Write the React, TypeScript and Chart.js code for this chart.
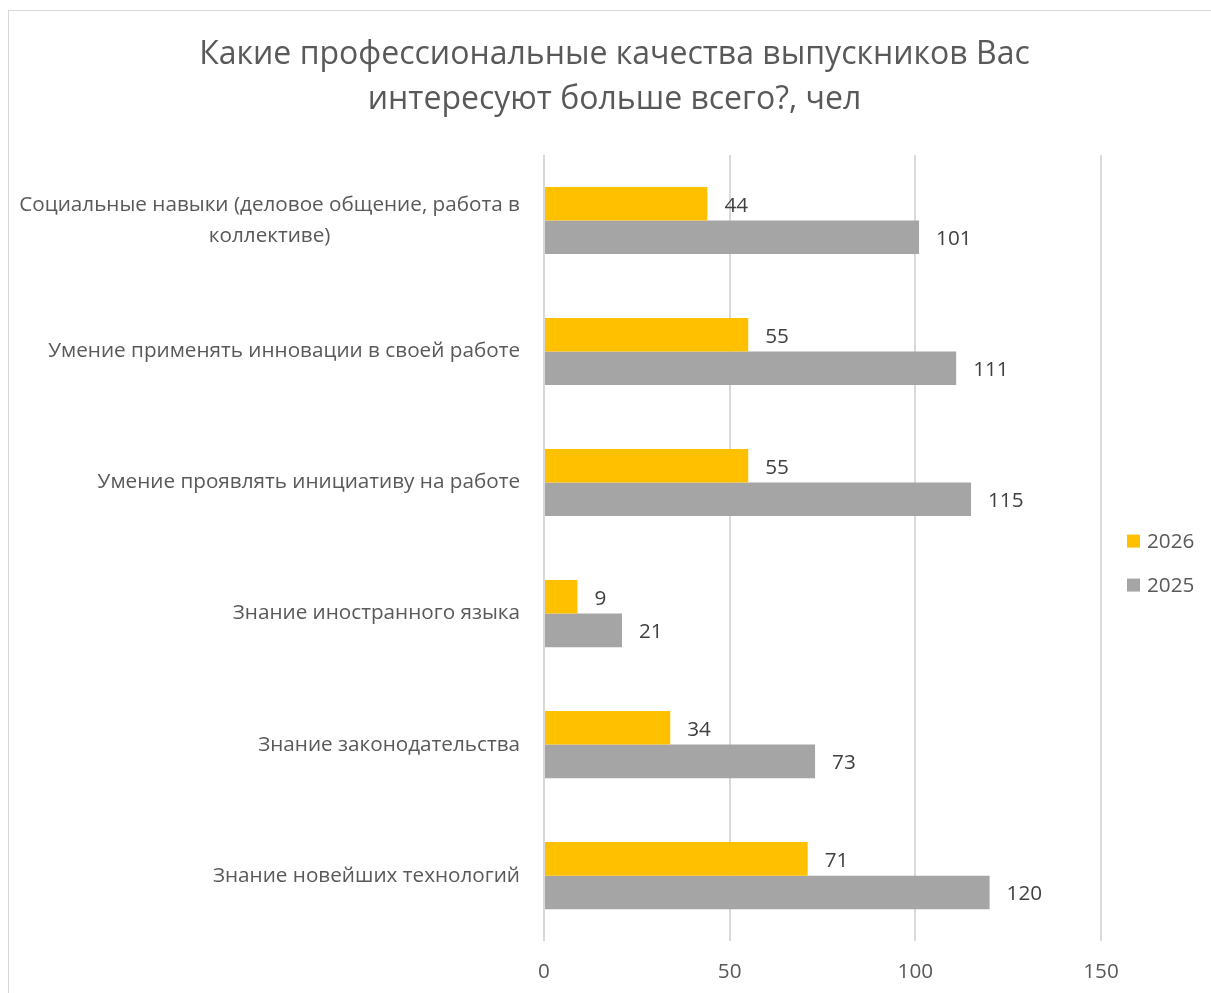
import React, { useEffect, useRef } from "react";
import { Chart, registerables } from "chart.js";

Chart.register(...registerables);

const titleLines = [
  "Какие профессиональные качества выпускников Вас",
  "интересуют больше всего?, чел",
];

const categories: (string | string[])[] = [
  ["Социальные навыки (деловое общение, работа в", "коллективе)"],
  "Умение применять инновации в своей работе",
  "Умение проявлять инициативу на работе",
  "Знание иностранного языка",
  "Знание законодательства",
  "Знание новейших технологий",
];

const seriesNames = ["2026", "2025"];
const values2026 = [44, 55, 55, 9, 34, 71];
const values2025 = [101, 111, 115, 21, 73, 120];
const seriesColors = ["#FFC000", "#A5A5A5"];

const xMin = 0;
const xMax = 150;
const xStep = 50;

const FONT = '"Open Sans", "Noto Sans", sans-serif';
const FS = 20.7;

const yLabelPlugin = {
  id: "yLabels",
  afterDraw(chart: any) {
    const { ctx, chartArea } = chart;
    const y = chart.scales.y;
    ctx.save();
    ctx.font = `${FS}px ${FONT}`;
    ctx.fillStyle = "#595959";
    ctx.textBaseline = "middle";
    ctx.textAlign = "center";
    const right = chartArea.left - 24;
    const lh = 31;
    (chart.data.labels as any[]).forEach((lab, i) => {
      const lines: string[] = Array.isArray(lab) ? lab : [lab];
      const widest = Math.max(...lines.map((l) => ctx.measureText(l).width));
      const cy = y.getPixelForValue(i);
      lines.forEach((l, j) => {
        ctx.fillText(l, right - widest / 2, cy + (j - (lines.length - 1) / 2) * lh);
      });
    });
    ctx.restore();
  },
};

const dataLabelPlugin = {
  id: "dataLabels",
  afterDatasetsDraw(chart: any) {
    const { ctx } = chart;
    ctx.save();
    ctx.font = `${FS}px ${FONT}`;
    ctx.fillStyle = "#404040";
    ctx.textBaseline = "middle";
    ctx.textAlign = "left";
    chart.data.datasets.forEach((ds: any, di: number) => {
      const meta = chart.getDatasetMeta(di);
      meta.data.forEach((el: any, i: number) => {
        ctx.fillText(String(ds.data[i]), el.x + 17, el.y + 2);
      });
    });
    ctx.restore();
  },
};

const legendPlugin = {
  id: "customLegend",
  afterDraw(chart: any) {
    const { ctx, chartArea } = chart;
    ctx.save();
    ctx.font = `${FS}px ${FONT}`;
    ctx.textBaseline = "middle";
    ctx.textAlign = "left";
    const mid = (chartArea.top + chartArea.bottom) / 2 + 15;
    const n = chart.data.datasets.length;
    chart.data.datasets.forEach((ds: any, i: number) => {
      const cy = mid + (i - (n - 1) / 2) * 44;
      const bx = chartArea.right + 26;
      ctx.fillStyle = ds.backgroundColor;
      ctx.fillRect(bx, cy - 6.5, 13, 13);
      ctx.fillStyle = "#595959";
      ctx.fillText(ds.label, bx + 20, cy + 1);
    });
    ctx.restore();
  },
};

export default function App() {
  const ref = useRef<HTMLCanvasElement | null>(null);

  useEffect(() => {
    if (!ref.current) return;
    const chart = new Chart(ref.current, {
      type: "bar",
      data: {
        labels: categories as any,
        datasets: [
          {
            label: seriesNames[0],
            data: values2026,
            backgroundColor: seriesColors[0],
            categoryPercentage: 0.512,
            barPercentage: 1,
          },
          {
            label: seriesNames[1],
            data: values2025,
            backgroundColor: seriesColors[1],
            categoryPercentage: 0.512,
            barPercentage: 1,
          },
        ],
      },
      options: {
        indexAxis: "y",
        responsive: false,
        animation: false,
        layout: { padding: { left: 119, right: 110, top: 0, bottom: 9 } },
        plugins: {
          legend: { display: false },
          tooltip: { enabled: false },
          title: {
            display: true,
            text: titleLines,
            color: "#595959",
            font: { family: FONT, size: 32, weight: "normal", lineHeight: "45px" } as any,
            padding: { top: 21.5, bottom: 32.5 },
          },
        },
        scales: {
          x: {
            min: xMin,
            max: xMax,
            grid: { color: "#d9d9d9", lineWidth: 2, drawTicks: false },
            border: { display: false },
            ticks: {
              stepSize: xStep,
              padding: 19,
              color: "#595959",
              font: { family: FONT, size: FS },
            },
          },
          y: {
            grid: { display: false },
            border: { display: false },
            ticks: { display: false },
            afterFit(scale: any) {
              scale.width = 416;
            },
          },
        },
      },
      plugins: [yLabelPlugin, dataLabelPlugin, legendPlugin],
    });
    return () => chart.destroy();
  }, []);

  return (
    <div
      style={{
        position: "fixed",
        left: 8,
        top: 10,
        width: 1203,
        height: 983,
        borderLeft: "1px solid #d9d9d9",
        borderTop: "1px solid #d9d9d9",
        boxSizing: "border-box",
        background: "#fff",
        overflow: "hidden",
      }}
    >
      <canvas ref={ref} width={1202} height={1002} style={{ display: "block" }} />
    </div>
  );
}
